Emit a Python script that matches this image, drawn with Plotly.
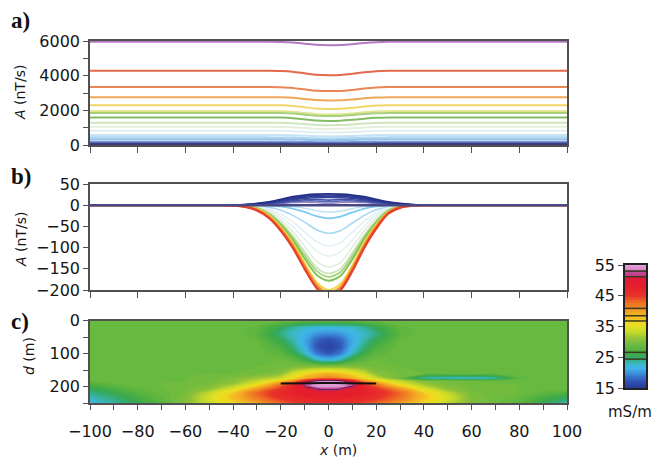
import plotly.graph_objects as go

# ---------------- Panel a data ----------------
XA = [-100, -25, -20, -15, -10, -5, 0, 5, 10, 15, 20, 25, 100]
A_VALUES = [
    [5950, 5950, 5940, 5912, 5845, 5779, 5760, 5770, 5817, 5884, 5931, 5950, 5950],
    [4280, 4280, 4268, 4230, 4142, 4055, 4030, 4042, 4105, 4192, 4255, 4280, 4280],
    [3340, 3340, 3328, 3294, 3213, 3133, 3110, 3121, 3179, 3260, 3317, 3340, 3340],
    [2760, 2760, 2750, 2722, 2655, 2589, 2570, 2579, 2627, 2693, 2741, 2760, 2760],
    [2300, 2300, 2289, 2256, 2179, 2102, 2080, 2091, 2146, 2223, 2278, 2300, 2300],
    [1950, 1950, 1940, 1912, 1845, 1779, 1760, 1769, 1817, 1883, 1931, 1950, 1950],
    [1850, 1850, 1841, 1814, 1751, 1688, 1670, 1679, 1724, 1787, 1832, 1850, 1850],
    [1590, 1590, 1580, 1550, 1480, 1410, 1390, 1400, 1450, 1520, 1570, 1590, 1590],
    [1290, 1290, 1282, 1260, 1207, 1155, 1140, 1147, 1185, 1237, 1275, 1290, 1290],
    [1050, 1050, 1044, 1026, 984, 942, 930, 936, 966, 1008, 1038, 1050, 1050],
    [820, 820, 815, 800, 765, 730, 720, 725, 750, 785, 810, 820, 820],
    [580, 580, 576, 564, 536, 508, 500, 504, 524, 552, 572, 580, 580],
    [440, 440, 437, 428, 407, 386, 380, 383, 398, 419, 434, 440, 440],
    [330, 330, 327, 320, 302, 285, 280, 282, 295, 312, 325, 330, 330],
    [190, 190, 188, 184, 173, 163, 160, 161, 169, 179, 187, 190, 190],
    [96, 96, 95, 93, 88, 83, 81, 82, 85, 91, 94, 96, 96],
    [38, 38, 38, 37, 35, 34, 33, 33, 34, 36, 38, 38, 38],
    [10, 10, 10, 10, 9, 9, 8, 8, 9, 9, 10, 10, 10],
]
A_COLORS = ["#b478c4", "#e4684a", "#ea8656", "#eda858", "#f2d66a", "#dfe690",
            "#a8cf7c", "#86bc64", "#cfe6bd", "#e4efdc", "#e2eff2", "#c6e3f3",
            "#acd6f2", "#92c2ea", "#7896d4", "#4656a6", "#343c84", "#3a3a78"]

# ---------------- Panel b data ----------------
XB = [-100, -50, -45, -40, -35, -30, -25, -20, -15, -10, -5, 0, 5, 10, 15, 20, 25, 30, 35, 40, 45, 50, 100]
B_VALUES = [
    [0, 0, 0, 0, 0, 0, 0, -1, -3, -7, -13, -16, -14, -8, -3, -1, 0, 0, 0, 0, 0, 0, 0],
    [0, 0, 0, 0, 0, 0, -1, -3, -8, -16, -26, -31, -27, -17, -8, -3, -1, 0, 0, 0, 0, 0, 0],
    [0, 0, 0, 0, 0, -2, -5, -12, -24, -40, -58, -66, -60, -42, -24, -11, -4, -1, 0, 0, 0, 0, 0],
    [0, 0, 0, 0, 0, -3, -9, -21, -39, -63, -86, -96, -88, -64, -38, -18, -6, -1, 0, 0, 0, 0, 0],
    [0, 0, 0, 0, -1, -4, -12, -28, -50, -80, -108, -120, -110, -82, -49, -24, -8, -2, 0, 0, 0, 0, 0],
    [0, 0, 0, 0, -1, -5, -15, -35, -62, -97, -132, -146, -135, -99, -60, -30, -10, -2, 0, 0, 0, 0, 0],
    [0, 0, 0, 0, -2, -6, -18, -41, -72, -110, -147, -161, -150, -112, -70, -36, -12, -3, 0, 0, 0, 0, 0],
    [0, 0, 0, 0, -2, -7, -20, -44, -77, -118, -155, -169, -158, -120, -75, -39, -13, -3, 0, 0, 0, 0, 0],
    [0, 0, 0, 0, -2, -8, -22, -47, -82, -126, -164, -178, -167, -128, -80, -42, -14, -4, -1, 0, 0, 0, 0],
    [0, 0, 0, -1, -3, -9, -24, -52, -89, -137, -181, -200, -186, -142, -88, -46, -16, -4, -1, 0, 0, 0, 0],
    [0, 0, 0, -1, -3, -10, -27, -56, -94, -143, -188, -207, -193, -148, -94, -50, -18, -5, -1, 0, 0, 0, 0],
    [0, 0, 0, -1, -4, -12, -30, -60, -100, -150, -195, -215, -200, -155, -100, -55, -20, -6, -1, 0, 0, 0, 0],
    [0, 0, 0, 0, 0.3, 1, 2, 4, 6, 7, 6, 4, 6, 7, 6, 4, 2, 1, 0.3, 0, 0, 0, 0],
    [0, 0, 0, 0.2, 0.6, 1.5, 3, 5.5, 8, 10, 10, 8, 10, 10, 8, 5.5, 3, 1.5, 0.6, 0.2, 0, 0, 0],
    [0, 0, 0, 0.2, 0.8, 2, 4, 7, 10.5, 13, 13.5, 12, 13.5, 13, 10.5, 7, 4, 2, 0.8, 0.2, 0, 0, 0],
    [0, 0, 0, 0.3, 1, 2.5, 5, 9, 13, 16, 17.5, 18, 17.5, 16, 13, 9, 5, 2.5, 1, 0.3, 0, 0, 0],
    [0, 0, 0, 0.3, 1, 3, 6, 10.5, 15, 18.5, 20.5, 21, 20.5, 18.5, 15, 10.5, 6, 3, 1, 0.3, 0, 0, 0],
    [0, 0, 0, 0.5, 1.5, 3.5, 7, 12, 17.5, 21.5, 23.5, 24, 23.5, 21.5, 17.5, 12, 7, 3.5, 1.5, 0.5, 0, 0, 0],
    [0, 0, 0, 0.5, 1.5, 4, 8, 14, 20, 24, 26, 26.5, 26, 24, 20, 14, 8, 4, 1.5, 0.5, 0, 0, 0],
    [0, 0, 0, 0, 0, 0, 0, 0, 0, 0, 0, 0, 0, 0, 0, 0, 0, 0, 0, 0, 0, 0, 0],
]
B_COLORS = ["#c4e4f6", "#7ccaee", "#a6d8f2", "#e0eef6", "#e4f0ee", "#dcecdc",
            "#c6e2b2", "#a6d27e", "#84c256", "#f2d848", "#f09034", "#e8402a",
            "#9a8cc8", "#5a66b6", "#4450a6", "#38469e", "#303c94", "#2c3a90",
            "#26328a", "#484884"]
B_WIDTHS = [1.6, 1.8, 1.6, 1.4, 1.4, 1.4, 1.6, 1.8, 2.0, 2.0, 2.2, 2.4,
            1.4, 1.6, 1.6, 1.6, 1.6, 1.6, 1.8, 2.6]

# ---------------- Panel c data (conductivity, mS/m) ----------------
XC = [-100, -90, -80, -70, -60, -50, -40, -30, -20, -15, -10, -5, 0, 5, 10, 15, 20, 30, 40, 50, 60, 70, 80, 90, 100]
DC = [0, 20, 40, 60, 80, 100, 120, 140, 160, 175, 183, 190, 198, 205, 220, 235, 250]
SIGMA = [
    [29, 29, 29, 29, 29, 29, 29, 29, 28.8, 28.5, 28.2, 28, 28, 28, 28.2, 28.5, 28.8, 29, 29, 29, 29, 29, 29, 29, 29],
    [29, 29, 29, 29, 29, 29, 29, 28.3, 25.5, 23.8, 22.8, 22.3, 22.2, 22.3, 22.8, 23.8, 25.5, 28.3, 29, 29, 29, 29, 29, 29, 29],
    [29, 29, 29, 29, 29, 29, 29, 27.8, 24.2, 22.8, 21.5, 20, 19.5, 20, 21.5, 22.8, 24.2, 27.8, 29, 29, 29, 29, 29, 29, 29],
    [29, 29, 29, 29, 29, 29, 29, 28.5, 25.5, 23.5, 21, 17.8, 16.6, 17.8, 21, 23.5, 25.5, 28.5, 29, 29, 29, 29, 29, 29, 29],
    [29, 29, 29, 29, 29, 29, 29, 29, 26.8, 24.5, 21.5, 17.3, 16, 17.3, 21.5, 24.5, 26.8, 29, 29, 29, 29, 29, 29, 29, 29],
    [29, 29, 29, 29, 29, 29, 29, 29, 28, 26, 23, 18.8, 17.3, 18.8, 23, 26, 28, 29, 29, 29, 29, 29, 29, 29, 29],
    [29, 29, 29, 29, 29, 29, 29, 29, 29, 28.2, 26.5, 23.5, 22, 23.5, 26.5, 28.2, 29, 29, 29, 29, 29, 29, 29, 29, 29],
    [29, 29, 29, 29, 29, 29, 29, 29, 29.3, 29.8, 30.2, 30.6, 30.8, 30.6, 30.2, 29.8, 29.3, 29, 29, 29, 29, 29, 29, 29, 29],
    [29, 29, 29, 29, 29, 29, 29, 29.3, 30.5, 33.5, 36, 37.5, 38.5, 37.5, 36, 33.5, 30.5, 29.3, 29, 29, 29, 29, 29, 29, 29],
    [29, 29, 29, 29, 29, 29.3, 30, 31.5, 33.5, 36.5, 39, 41, 42, 41, 39, 36.5, 33.5, 29, 23.2, 22.3, 22.3, 23.2, 28, 29, 29],
    [28.5, 29, 29, 29, 29, 29.5, 30.5, 33, 37.5, 40.5, 47, 53, 54, 53, 47.5, 40.5, 37.5, 33, 30, 29.5, 29, 29, 29, 29, 29],
    [27.5, 28.5, 29, 29, 29.2, 29.6, 31, 34.5, 41, 44.5, 52, 54.5, 55, 54.5, 52.5, 44.5, 41, 34.5, 31, 29.6, 29.2, 29, 29, 29, 29],
    [26.5, 27.8, 28.7, 29, 29.3, 30, 32.5, 37, 43.5, 46.5, 52, 54.5, 55, 54.5, 52.5, 46.5, 43.5, 37, 32.5, 30, 29.3, 29.1, 29, 29, 29],
    [25.5, 27, 28.3, 29, 29.4, 30.5, 34, 39.5, 45, 47, 49, 52.5, 53, 52.5, 49, 47, 45, 40, 34, 30.5, 29.4, 29.2, 29, 29, 29],
    [24, 25.5, 27.5, 28.7, 29.6, 33, 37.5, 43, 46.5, 47.5, 48.5, 49, 49, 49, 48.5, 47.5, 46.5, 43, 37.5, 33, 29.6, 29.2, 29, 28, 27],
    [23, 24.5, 26.5, 28.3, 30, 34, 38, 42, 45.5, 46.5, 47, 47.5, 47.5, 47.5, 47, 46.5, 45.5, 42.5, 38, 34, 30, 29.2, 28.5, 26.5, 25],
    [22, 23.5, 25.5, 27.8, 30.3, 33.5, 36.5, 39.5, 43, 44.5, 45.5, 46, 46, 46, 45.5, 44.5, 43, 40, 36.5, 33, 29.8, 29.2, 28, 25.5, 23],
]
TARGET_X = [-20, -8, 0, 8, 20]
TARGET_D = [191, 190, 189.5, 190, 191]

CB_TICKS = [15, 25, 35, 45, 55]
CB_LINES = [24.4, 26.6, 36.8, 38.5, 40.9, 51.2, 53.0]

VMIN, VMAX = 15, 55
stops = [(15, "#2b3a98"), (17, "#3050b0"), (18.5, "#3870cc"), (20, "#3c98dc"),
         (21.5, "#40b4e8"), (22.5, "#3cb8d0"), (23.5, "#38b4a8"), (24.4, "#34ac78"),
         (25.5, "#38a850"), (27, "#4eb040"), (29, "#6cba40"), (31, "#90c238"),
         (33, "#c4d82c"), (35, "#e4e022"), (36.8, "#f0d820"), (37.5, "#f4c224"),
         (39.5, "#f2aa22"), (41, "#f08a24"), (43, "#ee6a22"), (45, "#e8342a"),
         (48, "#e61e2a"), (51, "#dc1c3c"), (51.6, "#c83c8c"), (53, "#c0509e"),
         (53.6, "#d888c8"), (55, "#e0a0d8")]
CSCALE = [[(v - VMIN) / (VMAX - VMIN), c] for v, c in stops]

# the page body has an 8 px margin, so the figure is drawn 8 px in from the window corner
OFF = 8
WIN_W, WIN_H = 667, 459
W, H = WIN_W - OFF, WIN_H - OFF
def px(x):
    return (x - OFF) / W
def py(y):
    return 1 - (y - OFF) / H

XDOM = [px(90), px(567)]
TICKFONT = dict(family="DejaVu Sans", size=16, color="#161616")
LINE = dict(showline=True, mirror=True, linecolor="#505050", linewidth=1.5, automargin=False)

fig = go.Figure()

for vals, col in zip(A_VALUES, A_COLORS):
    fig.add_trace(go.Scatter(x=XA, y=vals, mode="lines", xaxis="x", yaxis="y",
                             line=dict(color=col, width=2, shape="spline", smoothing=0.7),
                             showlegend=False, hoverinfo="skip"))

for vals, col, wd in zip(B_VALUES, B_COLORS, B_WIDTHS):
    fig.add_trace(go.Scatter(x=XB, y=vals, mode="lines", xaxis="x2", yaxis="y2",
                             line=dict(color=col, width=wd, shape="spline", smoothing=0.8),
                             showlegend=False, hoverinfo="skip"))

fig.add_trace(go.Contour(x=XC, y=DC, z=SIGMA, xaxis="x3", yaxis="y3",
                         colorscale=CSCALE, zmin=VMIN, zmax=VMAX, showscale=False,
                         contours=dict(start=VMIN, end=VMAX, size=0.5, coloring="fill", showlines=False),
                         line=dict(width=0), hoverinfo="skip"))
fig.add_trace(go.Contour(x=XC, y=DC, z=SIGMA, xaxis="x3", yaxis="y3", showscale=False,
                         contours=dict(start=51.8, end=51.8, size=1, coloring="none"),
                         line=dict(width=1, color="#5a2050", smoothing=1), hoverinfo="skip"))
fig.add_trace(go.Scatter(x=TARGET_X, y=TARGET_D, mode="lines", xaxis="x3", yaxis="y3",
                         line=dict(color="#111111", width=2, shape="spline"),
                         showlegend=False, hoverinfo="skip"))

# colour bar drawn as its own small axis so ticks sit on the left
cb_levels = [VMIN + 0.125 + 0.25 * i for i in range(160)]
fig.add_trace(go.Heatmap(x=[0], y=cb_levels, z=[[v] for v in cb_levels], xaxis="x4", yaxis="y4",
                         colorscale=CSCALE, zmin=VMIN, zmax=VMAX, showscale=False, hoverinfo="skip"))

shapes = []
for v in CB_LINES:
    shapes.append(dict(type="line", xref="x4 domain", yref="y4", x0=0, x1=1, y0=v, y1=v,
                       line=dict(color="#3a3a20", width=1.5)))

fig.update_layout(
    width=W, height=H, margin=dict(l=0, r=0, t=0, b=0, autoexpand=False),
    paper_bgcolor="white", plot_bgcolor="white", showlegend=False,
    xaxis=dict(domain=XDOM, anchor="y", range=[-100, 100], tick0=-100, dtick=20,
               ticks="outside", ticklen=6, tickcolor="#505050", showticklabels=False,
               showgrid=False, zeroline=False, **LINE),
    yaxis=dict(domain=[py(145), py(41)], anchor="x", range=[0, 6000], dtick=2000,
               ticks="outside", ticklen=5, tickcolor="#505050", tickfont=TICKFONT,
               minor=dict(dtick=1000, ticks="outside", ticklen=5, tickcolor="#505050"),
               showgrid=False, zeroline=False, **LINE),
    xaxis2=dict(domain=XDOM, anchor="y2", range=[-100, 100], tick0=-100, dtick=20,
                ticks="outside", ticklen=6, tickcolor="#505050", showticklabels=False,
                showgrid=False, zeroline=False, **LINE),
    yaxis2=dict(domain=[py(290), py(184)], anchor="x2", range=[-200, 50], dtick=50,
                ticks="outside", ticklen=5, tickcolor="#505050", tickfont=TICKFONT,
                showgrid=False, zeroline=False, **LINE),
    xaxis3=dict(domain=XDOM, anchor="y3", range=[-100, 100], tick0=-100, dtick=20,
                ticks="outside", ticklen=5, tickcolor="#505050", tickfont=TICKFONT,
                ticklabelstandoff=8,
                minor=dict(dtick=10, ticks="outside", ticklen=5, tickcolor="#505050"),
                showgrid=False, zeroline=False, **LINE),
    yaxis3=dict(domain=[py(403), py(320.7)], anchor="x3", range=[250, 0], dtick=100,
                ticks="outside", ticklen=5, tickcolor="#505050", tickfont=TICKFONT,
                minor=dict(dtick=50, ticks="outside", ticklen=5, tickcolor="#505050"),
                showgrid=False, zeroline=False, **LINE),
    xaxis4=dict(domain=[px(625), px(646)], anchor="y4", range=[-0.5, 0.5], showticklabels=False,
                ticks="", showgrid=False, zeroline=False, showline=True, mirror=True,
                linecolor="#222222", linewidth=1.5, automargin=False),
    yaxis4=dict(domain=[py(388), py(265)], anchor="x4", range=[VMIN, VMAX], tickvals=CB_TICKS,
                ticks="outside", ticklen=5, tickcolor="#505050", tickfont=TICKFONT,
                showgrid=False, zeroline=False, showline=True, mirror=True,
                linecolor="#222222", linewidth=1.5, automargin=False),
    shapes=shapes,
)

LABFONT = dict(family="Liberation Serif", size=23, color="#111111")
TITFONT = dict(family="DejaVu Sans", size=14, color="#161616")
ann = [
    dict(text="<b>a)</b>", x=px(9), y=py(21), xanchor="left", yanchor="middle", font=LABFONT),
    dict(text="<b>b)</b>", x=px(9), y=py(176), xanchor="left", yanchor="middle", font=LABFONT),
    dict(text="<b>c)</b>", x=px(9), y=py(321), xanchor="left", yanchor="middle", font=LABFONT),
    dict(text="<i>A</i> (nT/s)", x=px(20), y=py(93), textangle=-90, xanchor="center", yanchor="middle", font=TITFONT),
    dict(text="<i>A</i> (nT/s)", x=px(21), y=py(240), textangle=-90, xanchor="center", yanchor="middle", font=TITFONT),
    dict(text="<i>d</i> (m)", x=px(29), y=py(356), textangle=-90, xanchor="center", yanchor="middle", font=TITFONT),
    dict(text="<i>x</i> (m)", x=px(338), y=py(450), xanchor="center", yanchor="middle", font=TITFONT),
    dict(text="mS/m", x=px(630), y=py(412), xanchor="center", yanchor="middle",
         font=dict(family="DejaVu Sans", size=15, color="#161616")),
]
for a in ann:
    a.update(xref="paper", yref="paper", showarrow=False)
fig.update_layout(annotations=ann)

fig.write_html("out.html")
